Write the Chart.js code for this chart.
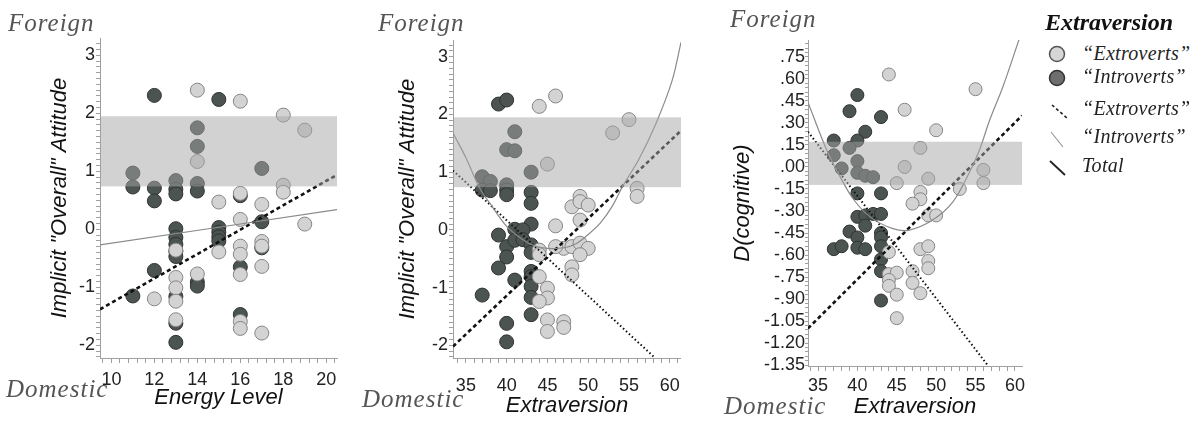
<!DOCTYPE html>
<html>
<head>
<meta charset="utf-8">
<title>Implicit attitude by energy level and extraversion</title>
<script src="https://cdn.jsdelivr.net/npm/chart.js@4.4.1/dist/chart.umd.min.js"></script>
<style>
  html, body { margin: 0; padding: 0; background: #fff; }
  #wrap { position: relative; width: 1197px; height: 427px; overflow: hidden; }
  canvas { position: absolute; top: 0; }
  .side { position: absolute; font-family: 'Liberation Serif', 'Times New Roman', serif; font-style: italic;
          font-size: 25px; line-height: 25px; color: #555; letter-spacing: 1px; white-space: nowrap; }
  .leg { position: absolute; left: 1082px; font-family: 'Liberation Serif', serif; font-style: italic;
         font-size: 20px; line-height: 20px; color: #222; letter-spacing: 0.3px; white-space: nowrap; }
  .leg-title { position: absolute; left: 1045px; top: 10px; font-family: 'Liberation Serif', serif;
               font-style: italic; font-weight: bold; font-size: 24px; line-height: 24px; color: #111; }
  #legicons { position: absolute; left: 1040px; top: 0; }
</style>
</head>
<body>
<div id="wrap">
  <canvas id="panel1" width="360" height="427" style="left:0"></canvas>
  <canvas id="panel2" width="330" height="427" style="left:360px"></canvas>
  <canvas id="panel3" width="345" height="427" style="left:690px"></canvas>

  <div class="side" style="left:8px;top:10px">Foreign</div>
  <div class="side" style="left:6px;top:376px">Domestic</div>
  <div class="side" style="left:378px;top:10px">Foreign</div>
  <div class="side" style="left:362px;top:386px">Domestic</div>
  <div class="side" style="left:730px;top:6px">Foreign</div>
  <div class="side" style="left:724px;top:393px">Domestic</div>

  <div class="leg-title">Extraversion</div>
  <svg id="legicons" width="40" height="190">
    <circle cx="17" cy="54" r="7.5" fill="#d6d6d6" stroke="#555" stroke-width="1.5"/>
    <circle cx="17" cy="78" r="7.5" fill="#6e6e6e" stroke="#333" stroke-width="1.5"/>
    <line x1="12" y1="105" x2="27" y2="118" stroke="#222" stroke-width="1.6" stroke-dasharray="3 2.5"/>
    <line x1="11" y1="132" x2="23" y2="147" stroke="#999" stroke-width="1.2"/>
    <line x1="10" y1="161" x2="25" y2="175" stroke="#222" stroke-width="1.8"/>
  </svg>
  <div class="leg" style="top:43px">“Extroverts”</div>
  <div class="leg" style="top:66px">“Introverts”</div>
  <div class="leg" style="top:98px">“Extroverts”</div>
  <div class="leg" style="top:126px">“Introverts”</div>
  <div class="leg" style="top:155px">Total</div>
</div>

<script>
// ---- values ----

// Panel 1: Energy Level vs implicit "overall" attitude
const p1ExtroX = [12, 13, 13, 13, 13, 13, 14, 14, 14, 15, 15, 16, 16, 16, 16, 16, 16, 16, 16,
                  17, 17, 17, 17, 17, 18, 18, 18, 19, 19];
const p1ExtroY = [-1.2, -0.36, -0.83, -1.01, -1.24, -1.56, 2.40, 1.17, -0.77, 0.47, -0.39,
                  2.21, 0.62, 0.17, -0.29, -0.43, -0.78, -1.59, -1.71,
                  0.43, -0.21, -0.29, -0.64, -1.79, 1.97, 0.76, 0.64, 1.71, 0.09];
const p1IntroX = [11, 11, 11, 12, 12, 12, 12, 13, 13, 13, 13, 13, 13, 13, 13, 13, 13, 13,
                  14, 14, 14, 14, 14, 14, 15, 15, 15, 15, 15, 16, 16, 16, 17, 17, 17];
const p1IntroY = [-1.15, 0.73, 0.97, 2.31, 0.71, 0.49, -0.71,
                  0.84, 0.69, 0.61, 0.01, -0.14, -0.26, -0.38, -0.47, -1.16, -1.62, -1.95,
                  1.75, 1.43, 0.79, 0.66, -0.91, -0.98, 2.24, 0.03, -0.05, -0.13, -0.2,
                  0.58, -0.65, -1.47, 1.05, 0.13, -0.32];
const p1TotalX = [9.47, 20.5];
const p1TotalY = [-0.27, 0.34];
const p1ExtroLineX = [9.47, 20.5];
const p1ExtroLineY = [-1.38, 0.94];

// Panel 2: Extraversion vs implicit "overall" attitude
const p2ExtroX = [44, 46, 45, 53, 55, 56, 56, 48, 49, 49, 50, 46, 49, 44, 44, 44, 45, 45, 44, 45,
                  45, 47, 47, 47, 48, 49, 50, 49, 48, 48, 46];
const p2ExtroY = [2.14, 2.32, 1.14, 1.68, 1.91, 0.72, 0.58, 0.40, 0.58, 0.49, 0.43, 0.07, 0.17,
                  -0.35, -0.43, -0.81, -1.01, -1.18, -1.24, -1.56, -1.76, -1.59, -1.69,
                  -0.32, -0.29, -0.23, -0.32, -0.43, -0.64, -0.78, -0.29];
const p2IntroX = [39, 40, 41, 40, 41, 43, 37, 38, 37, 38, 40, 40, 40, 43, 43, 43, 39, 41, 42,
                  40, 41, 42, 40, 43, 43, 39, 41, 37, 43, 43, 43, 43, 43, 40, 40];
const p2IntroY = [2.18, 2.25, 1.70, 1.39, 1.37, 1.0, 0.92, 0.84, 0.69, 0.68, 0.78, 0.69, 0.61,
                  0.65, 0.46, 0.10, -0.09, 0.01, 0.0, -0.29, -0.18, -0.17, -0.47, -0.26, -0.39,
                  -0.66, -0.87, -1.13, -0.72, -0.81, -0.98, -1.17, -1.47, -1.62, -1.94];
const p2TotalX = [33.42, 35, 36.7, 38, 40, 42, 43.5, 45, 47, 48.5, 50, 51.5, 53, 54.2, 56.2, 58.3, 60.3, 61.38];
const p2TotalY = [1.68, 1.25, 0.72, 0.45, 0.06, -0.17, -0.28, -0.32, -0.31, -0.24, -0.08, 0.12, 0.42,
                  0.75, 1.22, 1.84, 2.59, 3.25];
const p2ExtroLineX = [33.42, 61.38];
const p2ExtroLineY = [-2.02, 1.72];
const p2IntroLineX = [33.42, 58.2];
const p2IntroLineY = [1.03, -2.22];

// Panel 3: Extraversion vs D(cognitive)
const p3ExtroX = [44, 55, 46, 50, 48, 46, 49, 45, 56, 56, 53, 48, 48, 47, 49, 50, 44, 48, 49, 49,
                  49, 44, 45, 47, 44, 44, 47, 45, 48, 45];
const p3ExtroY = [0.63, 0.53, 0.39, 0.25, 0.13, 0.0, -0.08, -0.11, -0.02, -0.11, -0.15, -0.17, -0.22,
                  -0.25, -0.33, -0.33, -0.58, -0.56, -0.54, -0.64, -0.69, -0.73, -0.72, -0.71,
                  -0.77, -0.81, -0.79, -0.87, -0.86, -1.03];
const p3IntroX = [40, 39, 43, 41, 37, 40, 39, 37, 38, 40, 40, 41, 42, 40, 43, 40, 41, 42, 43, 41,
                  39, 40, 43, 43, 37, 38, 40, 41, 43, 43, 43, 43];
const p3IntroY = [0.49, 0.38, 0.34, 0.24, 0.18, 0.18, 0.13, 0.08, -0.01, 0.04, -0.04, -0.06, -0.07,
                  -0.18, -0.18, -0.34, -0.33, -0.32, -0.32, -0.40, -0.44, -0.48, -0.45, -0.48,
                  -0.56, -0.54, -0.55, -0.56, -0.54, -0.63, -0.71, -0.91];
const p3TotalX = [33.73, 36.1, 37.8, 39.5, 41.6, 44.5, 46.6, 49.6, 52.1, 54.2, 55.5, 56.8, 58.5, 60.6];
const p3TotalY = [0.44, 0.116, -0.066, -0.22, -0.34, -0.42, -0.43, -0.36, -0.24, -0.04, 0.116, 0.32, 0.55, 0.88];
const p3ExtroLineX = [33.73, 60.9];
const p3ExtroLineY = [-1.10, 0.35];
const p3IntroLineX = [33.73, 56.6];
const p3IntroLineY = [0.24, -1.355];

// shaded "neutral" bands
const p1Band = [0.74, 1.95];
const p2Band = [0.74, 1.95];
const p3Band = [-0.122, 0.172];

// ---- styling ----
const SANS = "'Liberation Sans', Arial, sans-serif";
const AXIS_GRAY = '#a0a0a0';
const LIGHT_FILL = '#d3d3d3', LIGHT_EDGE = '#858585';
const DARK_FILL = '#4b5450', DARK_EDGE = '#2f3431';

function pairs(xs, ys) {
    return xs.map((x, i) => ({ x: x, y: ys[i] }));
}

function pointSet(label, xs, ys, fill, edge, radius) {
    return {
        label: label,
        data: pairs(xs, ys),
        backgroundColor: fill,
        borderColor: edge,
        borderWidth: 1,
        pointRadius: radius,
        pointHoverRadius: radius
    };
}

function lineSet(label, xs, ys, style) {
    return Object.assign({
        label: label,
        data: pairs(xs, ys),
        showLine: true,
        pointRadius: 0,
        pointHoverRadius: 0,
        fill: false
    }, style);
}

const TOTAL_STYLE = { borderColor: '#8a8a8a', borderWidth: 1.2, tension: 0.35 };
const EXTRO_STYLE = { borderColor: '#111', borderWidth: 2.6, borderDash: [4, 3] };
const INTRO_STYLE = { borderColor: '#111', borderWidth: 2, borderDash: [1.5, 2.5] };

// band drawn over the points, semi transparent, like the original
const bandPlugin = {
    id: 'band',
    afterDatasetsDraw(chart, args, opts) {
        const { ctx, chartArea: a, scales: { y } } = chart;
        const top = y.getPixelForValue(opts.high);
        const bottom = y.getPixelForValue(opts.low);
        ctx.save();
        ctx.fillStyle = 'rgba(165, 165, 165, 0.5)';
        ctx.fillRect(a.left + 1, top, a.right - a.left - 1, bottom - top);
        ctx.restore();
    }
};

const isMultiple = (v, step) => Math.abs(v / step - Math.round(v / step)) < 1e-6;

function buildPanel(id, p) {
    return new Chart(document.getElementById(id), {
        type: 'scatter',
        data: { datasets: p.datasets },
        options: {
            responsive: false,
            animation: false,
            devicePixelRatio: 1,
            events: [],
            layout: { padding: p.pad },
            plugins: {
                legend: { display: false },
                tooltip: { enabled: false },
                band: { low: p.band[0], high: p.band[1] }
            },
            scales: {
                x: {
                    type: 'linear',
                    min: p.xRange[0],
                    max: p.xRange[1],
                    afterFit: s => { s.height = p.xHeight; },
                    border: { color: AXIS_GRAY, width: 1 },
                    grid: { drawOnChartArea: false, color: AXIS_GRAY, tickLength: 5 },
                    ticks: {
                        stepSize: p.xStep,
                        includeBounds: false,
                        autoSkip: false,
                        maxRotation: 0,
                        minRotation: 0,
                        padding: p.xTickPad,
                        color: '#222',
                        font: { family: SANS, size: 18 },
                        callback: v => isMultiple(v, p.xLabelEvery) ? String(Math.round(v)) : ''
                    },
                    title: {
                        display: true,
                        text: p.xTitle,
                        color: '#111',
                        padding: 0,
                        font: { family: SANS, size: 22, style: 'italic' }
                    }
                },
                y: {
                    type: 'linear',
                    min: p.yRange[0],
                    max: p.yRange[1],
                    afterFit: s => { s.width = p.yWidth; },
                    border: { color: AXIS_GRAY, width: 1 },
                    grid: { drawOnChartArea: false, color: AXIS_GRAY, tickLength: p.yTickLen },
                    ticks: {
                        stepSize: p.yStep,
                        includeBounds: false,
                        autoSkip: false,
                        padding: p.yTickPad,
                        color: '#222',
                        font: { family: SANS, size: 18 },
                        callback: v => isMultiple(v, p.yLabelEvery) ? p.yFormat(v) : ''
                    },
                    title: {
                        display: true,
                        text: p.yTitle,
                        color: '#111',
                        padding: 0,
                        font: { family: SANS, size: 22, style: 'italic' }
                    }
                }
            }
        },
        plugins: [bandPlugin]
    });
}

const intLabel = v => String(Math.round(v));
const decLabel = v => {
    const r = Math.round(v * 100) / 100;
    return (r < 0 ? '-' : '') + Math.abs(r).toFixed(2).replace(/^0/, '');
};

buildPanel('panel1', {
    pad: { left: 47, top: 38, right: 23, bottom: 16 },
    yWidth: 53, xHeight: 53,
    xRange: [9.47, 20.5], xStep: 0.4, xLabelEvery: 2, xTickPad: 6,
    yRange: [-2.22, 3.3], yStep: 0.1, yLabelEvery: 1, yTickLen: 4, yTickPad: 1, yFormat: intLabel,
    xTitle: 'Energy Level',
    yTitle: 'Implicit "Overall" Attitude',
    band: p1Band,
    datasets: [
        lineSet('Total', p1TotalX, p1TotalY, TOTAL_STYLE),
        lineSet('"Extroverts" fit', p1ExtroLineX, p1ExtroLineY, EXTRO_STYLE),
        pointSet('"Extroverts"', p1ExtroX, p1ExtroY, LIGHT_FILL, LIGHT_EDGE, 7),
        pointSet('"Introverts"', p1IntroX, p1IntroY, DARK_FILL, DARK_EDGE, 7)
    ]
});

buildPanel('panel2', {
    pad: { left: 35, top: 40, right: 7, bottom: 8 },
    yWidth: 58, xHeight: 61,
    xRange: [33.42, 61.38], xStep: 1, xLabelEvery: 5, xTickPad: 12,
    yRange: [-2.22, 3.29], yStep: 0.1, yLabelEvery: 1, yTickLen: 4, yTickPad: 1, yFormat: intLabel,
    xTitle: 'Extraversion',
    yTitle: 'Implicit "Overall" Attitude',
    band: p2Band,
    datasets: [
        lineSet('Total', p2TotalX, p2TotalY, TOTAL_STYLE),
        lineSet('"Extroverts" fit', p2ExtroLineX, p2ExtroLineY, EXTRO_STYLE),
        lineSet('"Introverts" fit', p2IntroLineX, p2IntroLineY, INTRO_STYLE),
        pointSet('"Extroverts"', p2ExtroX, p2ExtroY, LIGHT_FILL, LIGHT_EDGE, 7),
        pointSet('"Introverts"', p2IntroX, p2IntroY, DARK_FILL, DARK_EDGE, 7)
    ]
});

buildPanel('panel3', {
    pad: { left: 40, top: 40, right: 13, bottom: 7 },
    yWidth: 78, xHeight: 54,
    xRange: [33.73, 60.9], xStep: 1, xLabelEvery: 5, xTickPad: 4,
    yRange: [-1.356, 0.865], yStep: 0.03, yLabelEvery: 0.15, yTickLen: 3, yTickPad: 0, yFormat: decLabel,
    xTitle: 'Extraversion',
    yTitle: 'D(cognitive)',
    band: p3Band,
    datasets: [
        lineSet('Total', p3TotalX, p3TotalY, TOTAL_STYLE),
        lineSet('"Extroverts" fit', p3ExtroLineX, p3ExtroLineY, EXTRO_STYLE),
        lineSet('"Introverts" fit', p3IntroLineX, p3IntroLineY, INTRO_STYLE),
        pointSet('"Extroverts"', p3ExtroX, p3ExtroY, LIGHT_FILL, LIGHT_EDGE, 6.5),
        pointSet('"Introverts"', p3IntroX, p3IntroY, DARK_FILL, DARK_EDGE, 6.5)
    ]
});
</script>
</body>
</html>
